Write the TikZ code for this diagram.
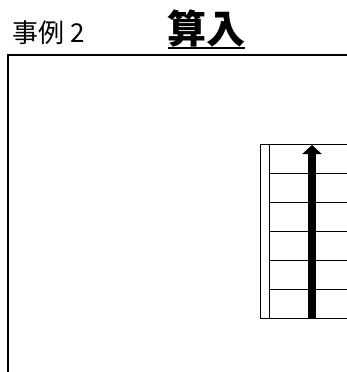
\documentclass[tikz,border=0pt]{standalone}
\usepackage{fontspec}
\newfontfamily\cjk{Noto Sans CJK JP}
\usetikzlibrary{arrows.meta}
\begin{document}
\begin{tikzpicture}[x=1pt,y=-1pt,
  frameline/.style={line width=1.4pt},
  stairline/.style={line width=1pt},
  upflow/.style={line width=8pt,-{Triangle[width=19pt,length=9pt]}}]
\useasboundingbox (0,0) rectangle (347,372);
% titles
\node[anchor=west,inner sep=0pt] (case) at (12,33) {\cjk\fontsize{26pt}{28pt}\selectfont 事例 2};
\node[anchor=center,inner sep=0pt] (title) at (206.5,28) {\cjk\bfseries\fontsize{39pt}{42pt}\selectfont 算入};
\draw[line width=1.6pt] (168,48) -- (245,48);
% frame
\draw[frameline] (8,372) -- (8,55) -- (347,55);
% staircase
\draw[stairline] (347,144) -- (260,144) -- (260,318) -- (347,318);
\draw[stairline] (269,144) -- (269,318);
\foreach \y in {173,202,231,260,289}
  \draw[stairline] (269,\y) -- (347,\y);
\coordinate (abot) at (312,318);
\coordinate (atop) at (312,145);
\draw[upflow] (abot) -- (atop);
\end{tikzpicture}
\end{document}
